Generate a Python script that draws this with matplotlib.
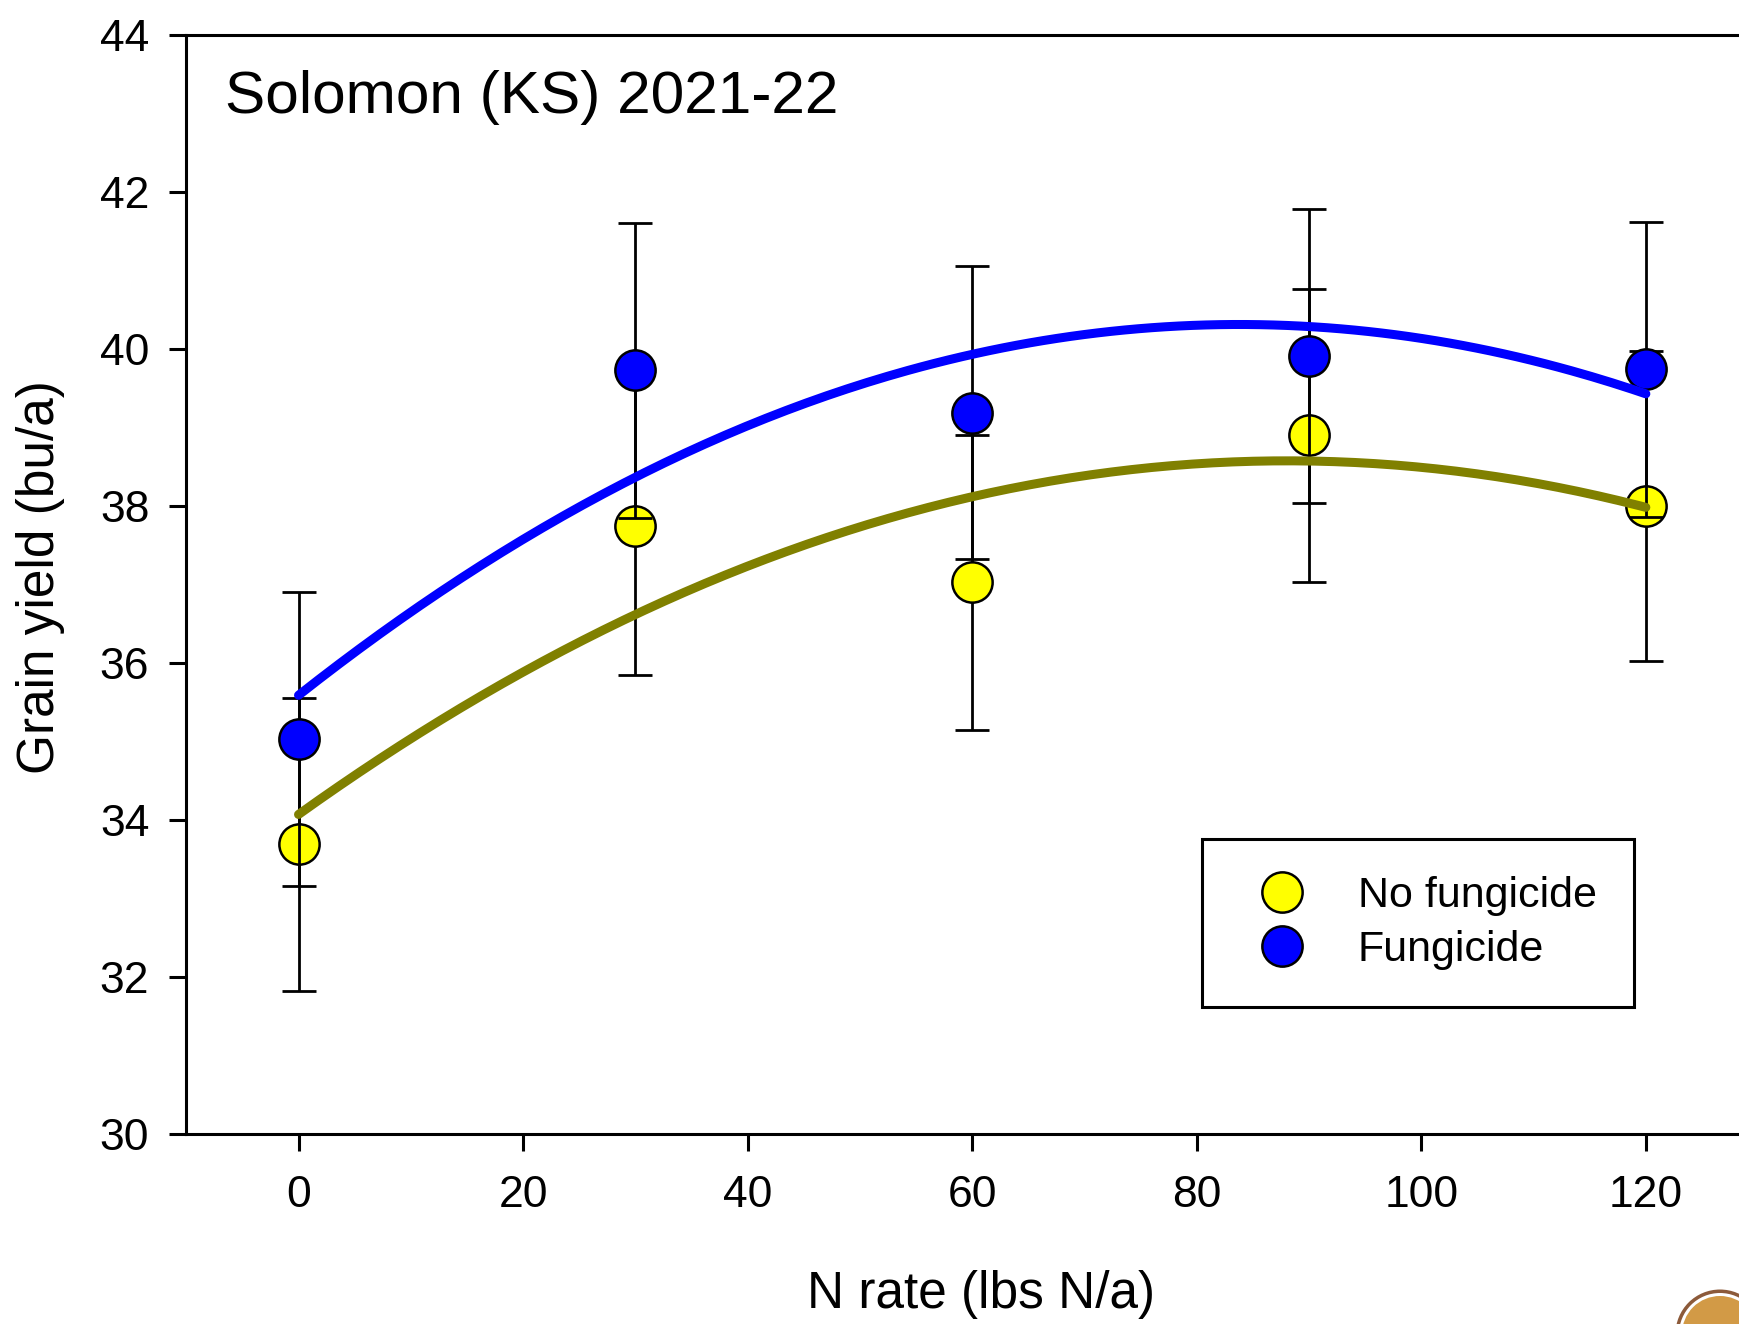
import matplotlib
matplotlib.use("Agg")
import matplotlib.pyplot as plt
from matplotlib.patches import Circle
import numpy as np

plt.rcParams["font.family"] = ["Liberation Sans", "DejaVu Sans"]

# N rate (lbs N/a) and mean grain yield (bu/a) with error bars
N_RATE = [0, 30, 60, 90, 120]
NO_FUNG = [33.69, 37.74, 37.03, 38.90, 38.00]
NO_FUNG_ERR = [1.87, 1.89, 1.88, 1.87, 1.98]
FUNG = [35.03, 39.73, 39.19, 39.91, 39.74]
FUNG_ERR = [1.87, 1.88, 1.87, 1.87, 1.88]

X_TICKS = [0, 20, 40, 60, 80, 100, 120]
Y_TICKS = [30, 32, 34, 36, 38, 40, 42, 44]

YELLOW = "#ffff00"
BLUE = "#0000ff"
OLIVE = "#808000"


def quad_fit(x, y):
    coef = np.polyfit(x, y, 2)
    xs = np.linspace(min(x), max(x), 200)
    return xs, np.polyval(coef, xs)


fig = plt.figure(figsize=(17.39, 13.24), dpi=100)
ax = fig.add_axes([0.1071, 0.1435, 0.9039, 0.8301])

eb_kw = dict(fmt="none", ecolor="black", elinewidth=2.0, capsize=12.5, capthick=2.0)
mk_kw = dict(linestyle="none", marker="o", markersize=29, markeredgecolor="black", markeredgewidth=1.8)

ax.errorbar(N_RATE, NO_FUNG, yerr=NO_FUNG_ERR, zorder=2, **eb_kw)
ax.plot(N_RATE, NO_FUNG, color=YELLOW, markerfacecolor=YELLOW, label="No fungicide", zorder=3, **mk_kw)
ax.errorbar(N_RATE, FUNG, yerr=FUNG_ERR, zorder=4, **eb_kw)
ax.plot(N_RATE, FUNG, color=BLUE, markerfacecolor=BLUE, label="Fungicide", zorder=5, **mk_kw)

# quadratic response curves
xs, ys = quad_fit(N_RATE, NO_FUNG)
ax.plot(xs, ys, color=OLIVE, lw=6.5, solid_capstyle="round", zorder=6)
xs, ys = quad_fit(N_RATE, FUNG)
ax.plot(xs, ys, color=BLUE, lw=6.5, solid_capstyle="round", zorder=6)

ax.set_xlim(-10, 130)
ax.set_ylim(30, 44)
ax.set_xticks(X_TICKS)
ax.set_yticks(Y_TICKS)
ax.tick_params(axis="both", direction="out", length=12, width=2.2, labelsize=32, colors="black")
ax.tick_params(axis="x", pad=17.5)
ax.tick_params(axis="y", pad=14.6)
for side in ax.spines.values():
    side.set_linewidth(2.2)
    side.set_color("black")

ax.set_xlabel("N rate (lbs N/a)", fontsize=37)
ax.set_ylabel("Grain yield (bu/a)", fontsize=37)
ax.xaxis.set_label_coords(0.5056, -0.124)
ax.yaxis.set_label_coords(-0.077, 0.507)

ax.text(0.0246, 0.9293, "Solomon (KS) 2021-22", transform=ax.transAxes,
        fontsize=43.5, ha="left", va="baseline")

leg = ax.legend(loc="upper left", bbox_to_anchor=(0.691, 0.3663), bbox_transform=fig.transFigure,
                fontsize=31, frameon=True, fancybox=False, framealpha=1, edgecolor="black",
                borderpad=0.87, handlelength=1.98, handletextpad=0.78, labelspacing=0.31,
                borderaxespad=0, markerscale=1.0)
leg.get_frame().set_linewidth(2.2)
leg.set_zorder(10)

# slide badge in the lower right corner
for r, fc in [(0.445, "#8c5a3a"), (0.41, "white"), (0.38, "#d29a46")]:
    fig.patches.append(Circle((17.20, -0.10), r, transform=fig.dpi_scale_trans,
                              facecolor=fc, edgecolor="none", zorder=20))

fig.savefig("out.png", dpi=100, facecolor="white")
